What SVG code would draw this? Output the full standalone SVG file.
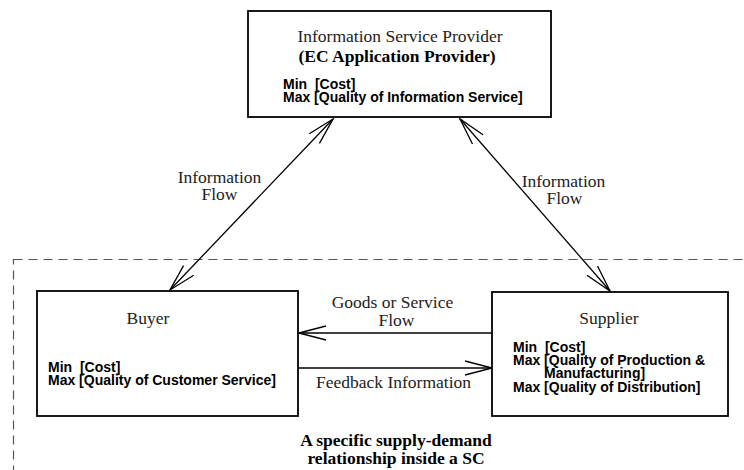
<svg xmlns="http://www.w3.org/2000/svg" width="744" height="470" viewBox="0 0 744 470">
  <style>
    .box { fill: #fff; stroke: #000; stroke-width: 1.8; }
    .scope { fill: none; stroke: #555; stroke-width: 1.2; stroke-dasharray: 9 6; }
    .link { fill: none; stroke: #000; stroke-width: 1.3; }
    .serif { font-family: "Liberation Serif", "Times New Roman", serif; font-size: 17.5px; fill: #222; }
    .serif-b { font-family: "Liberation Serif", "Times New Roman", serif; font-size: 17.5px; font-weight: bold; fill: #000; }
    .goal { font-family: "Liberation Sans", Arial, sans-serif; font-size: 14px; font-weight: bold; fill: #000; white-space: pre; }
    .mid { text-anchor: middle; }
  </style>
  <defs>
    <marker id="open-arrow" viewBox="-30 -10 32 20" refX="0" refY="0" markerWidth="32" markerHeight="20" markerUnits="userSpaceOnUse" orient="auto-start-reverse">
      <path d="M -27 -7 L 0 0 L -27 7" fill="none" stroke="#000" stroke-width="1.3"/>
    </marker>
  </defs>
  <rect width="744" height="470" fill="#fff"/>

  <!-- supply-demand scope (dashed region) -->
  <rect class="scope" x="13.5" y="259.5" width="760" height="240"/>

  <!-- connectors -->
  <g id="connectors">
    <line class="link" x1="333" y1="119" x2="170" y2="290" marker-start="url(#open-arrow)" marker-end="url(#open-arrow)"/>
    <line class="link" x1="460" y1="119" x2="610" y2="291" marker-start="url(#open-arrow)" marker-end="url(#open-arrow)"/>
    <line class="link" x1="492" y1="333" x2="299" y2="333" marker-end="url(#open-arrow)"/>
    <line class="link" x1="299" y1="368" x2="492" y2="368" marker-end="url(#open-arrow)"/>
    <text class="serif mid" x="219.5" y="183">Information</text>
    <text class="serif mid" x="219.5" y="200">Flow</text>
    <text class="serif mid" x="563.5" y="187">Information</text>
    <text class="serif mid" x="564.5" y="204">Flow</text>
    <text class="serif mid" x="392.5" y="308">Goods or Service</text>
    <text class="serif mid" x="396.5" y="326">Flow</text>
    <text class="serif mid" x="393.5" y="388">Feedback Information</text>
  </g>

  <!-- information service provider -->
  <g id="provider">
    <rect class="box" x="248" y="11" width="303" height="106"/>
    <text class="serif mid" x="400" y="42">Information Service Provider</text>
    <text class="serif-b mid" x="397" y="62">(EC Application Provider)</text>
    <text class="goal" x="283" y="89" xml:space="preserve">Min  [Cost]</text>
    <text class="goal" x="283" y="102">Max [Quality of Information Service]</text>
  </g>

  <!-- buyer -->
  <g id="buyer">
    <rect class="box" x="37" y="291" width="261" height="125"/>
    <text class="serif mid" x="148" y="324">Buyer</text>
    <text class="goal" x="48" y="372" xml:space="preserve">Min  [Cost]</text>
    <text class="goal" x="48" y="385">Max [Quality of Customer Service]</text>
  </g>

  <!-- supplier -->
  <g id="supplier">
    <rect class="box" x="492" y="292" width="236" height="124"/>
    <text class="serif mid" x="609" y="324">Supplier</text>
    <text class="goal" x="513" y="352" xml:space="preserve">Min  [Cost]</text>
    <text class="goal" x="513" y="365">Max [Quality of Production &amp;</text>
    <text class="goal" x="544" y="378">Manufacturing]</text>
    <text class="goal" x="513" y="391.5">Max [Quality of Distribution]</text>
  </g>

  <!-- scope caption -->
  <g id="caption">
    <text class="serif-b mid" x="396" y="446">A specific supply-demand</text>
    <text class="serif-b mid" x="396" y="464">relationship inside a SC</text>
  </g>
</svg>
